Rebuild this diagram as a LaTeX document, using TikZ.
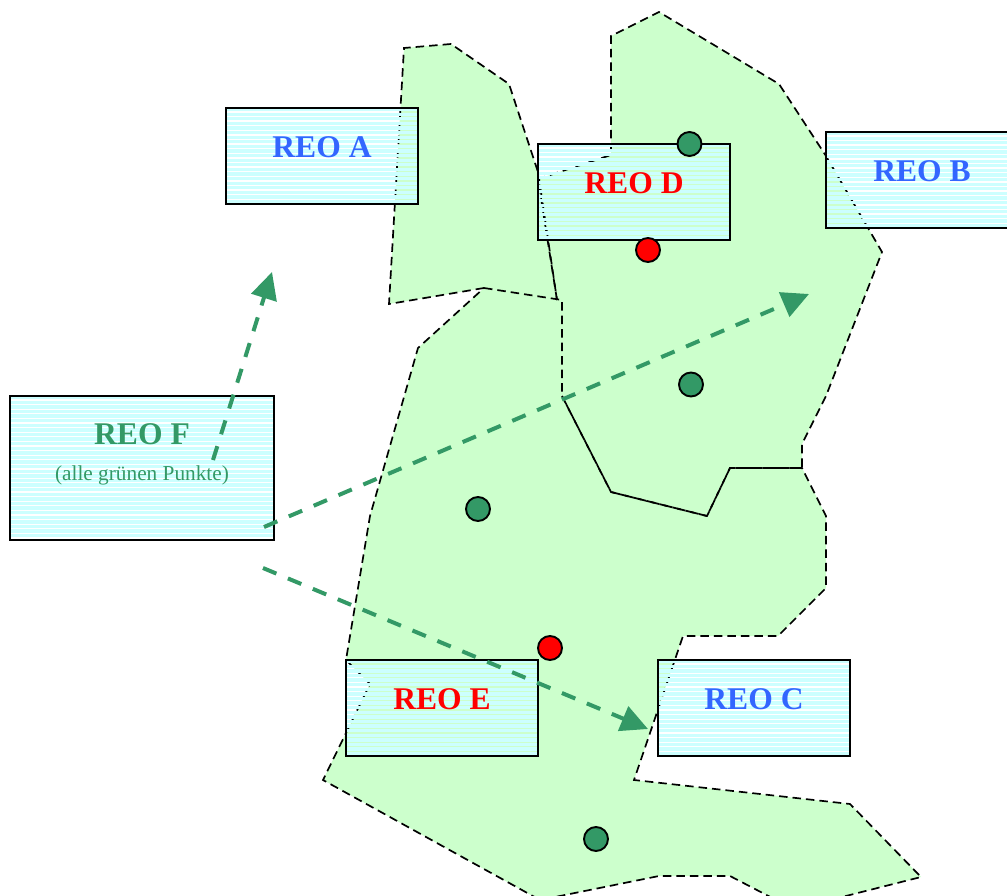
\documentclass[tikz,border=0pt]{standalone}
\usepackage{fontspec}
\setmainfont{Liberation Serif}
\usetikzlibrary{arrows.meta}
\definecolor{regiongreen}{HTML}{CCFFCC}
\definecolor{stripecyan}{HTML}{CCFFFF}
\definecolor{reoblue}{HTML}{3366FF}
\definecolor{reogreen}{HTML}{339966}
\definecolor{reored}{HTML}{FF0000}
\tikzset{
  region/.style={draw=black,line width=1.7pt,dash pattern=on 8.5pt off 5pt,line join=miter},
  regionfill/.style={fill=regiongreen,draw=none},
  reobox/.style={draw=none,rectangle,inner sep=0pt,outer sep=0pt,
    path picture={
      \foreach \k in {0,...,34}{
        \fill[stripecyan] ([yshift=-\k*4.6pt]path picture bounding box.north west) rectangle +(300pt,-3.3pt);
      }
    }},
  boxframe/.style={draw=black,line width=1.9pt,fill=none,rectangle,inner sep=0pt},
  reolabel/.style={font=\fontsize{31.6}{32}\selectfont\bfseries,inner sep=0pt},
  reosub/.style={font=\fontsize{21.3}{22}\selectfont,text=reogreen,inner sep=0pt},
  reoarrow/.style={draw=reogreen,line width=4pt,dash pattern=on 14.5pt off 12.5pt,
    -{Triangle[length=27pt,width=26pt,fill=reogreen]}},
  dot/.style={circle,draw=black,line width=1.9pt,minimum size=24pt,inner sep=0pt},
  greendot/.style={dot,fill=reogreen},
  reddot/.style={dot,fill=reored}
}
\begin{document}
\begin{tikzpicture}[x=1pt,y=-1pt]
\useasboundingbox (0,0) rectangle (1007,896);
\clip (0,0) rectangle (1007,896);
\def\regA{(404,48) -- (451,44) -- (509,84) -- (538,172) -- (557,300) -- (484,288) -- (389,304) -- cycle}
\def\regD{(611,36) -- (659,12) -- (779,84) -- (826,156) -- (882,252) -- (826,396) -- (802,444) -- (802,468) -- (730,468) -- (707,516) -- (611,492) -- (562,396) -- (562,300) -- (557,300) -- (538,179) -- (611,155) -- cycle}
\def\regE{(484,288) -- (562,300) -- (562,396) -- (611,492) -- (707,516) -- (730,468) -- (802,468) -- (826,516) -- (826,588) -- (778,636) -- (683,636) -- (634,780) -- (850,804) -- (921,877) -- (826,901) -- (778,901) -- (730,876) -- (659,876) -- (540,900) -- (323,780) -- (370,684) -- (346,660) -- (370,516) -- (418,348) -- cycle}
\path[regionfill] \regA;
\path[regionfill] \regD;
\path[regionfill] \regE;
\path[region] (484,288) -- (389,304) -- (404,48) -- (451,44) -- (509,84) -- (538,172) -- (557,300);
\path[region] (557,300) -- (538,179) -- (611,155) -- (611,36) -- (659,12) -- (779,84) -- (826,156) -- (882,252) -- (826,396) -- (802,444) -- (802,468) -- (730,468) -- (707,516) -- (611,492) -- (562,396);
\path[region] \regE;

\node[reobox,minimum width=192pt,minimum height=96pt] (a) at (322,156) {};
\node[reobox,minimum width=192pt,minimum height=96pt] (d) at (634,192) {};
\node[reobox,minimum width=192pt,minimum height=96pt] (b) at (922,180) {};
\node[reobox,minimum width=192pt,minimum height=96pt] (e) at (442,708) {};
\node[reobox,minimum width=192pt,minimum height=96pt] (c) at (754,708) {};
\node[reobox,minimum width=264pt,minimum height=144pt] (f) at (142,468) {};

\node[boxframe,minimum width=192pt,minimum height=96pt] (aframe) at (322,156) {};
\node[boxframe,minimum width=192pt,minimum height=96pt] (dframe) at (634,192) {};
\node[boxframe,minimum width=192pt,minimum height=96pt] (bframe) at (922,180) {};
\node[boxframe,minimum width=192pt,minimum height=96pt] (eframe) at (442,708) {};
\node[boxframe,minimum width=192pt,minimum height=96pt] (cframe) at (754,708) {};
\node[boxframe,minimum width=264pt,minimum height=144pt] (fframe) at (142,468) {};

\node[reolabel,text=reoblue] (atext) at (322,147.5) {REO A};
\node[reolabel,text=reored] (dtext) at (634,183.5) {REO D};
\node[reolabel,text=reoblue] (btext) at (922,171.5) {REO B};
\node[reolabel,text=reored] (etext) at (442,699.5) {REO E};
\node[reolabel,text=reoblue] (ctext) at (754,699.5) {REO C};
\node[reolabel,text=reogreen] (ftext) at (142,434.5) {REO F};
\node[reosub] (fsub) at (142,475) {(alle grünen Punkte)};

\node[greendot] (g1) at (689.5,144) {};
\node[greendot] (g2) at (691,384.5) {};
\node[greendot] (g3) at (478,509) {};
\node[greendot] (g4) at (596,839) {};
\node[reddot] (r1) at (648,250) {};
\node[reddot] (r2) at (550,648) {};

\coordinate (s1) at (213,460);
\coordinate (t1) at (272,272);
\coordinate (s2) at (264,527);
\coordinate (t2) at (809,294);
\coordinate (s3) at (263,568);
\coordinate (t3) at (648,729);
\draw[reoarrow] (s1) -- (t1);
\draw[reoarrow] (s2) -- (t2);
\draw[reoarrow] (s3) -- (t3);
\end{tikzpicture}
\end{document}
